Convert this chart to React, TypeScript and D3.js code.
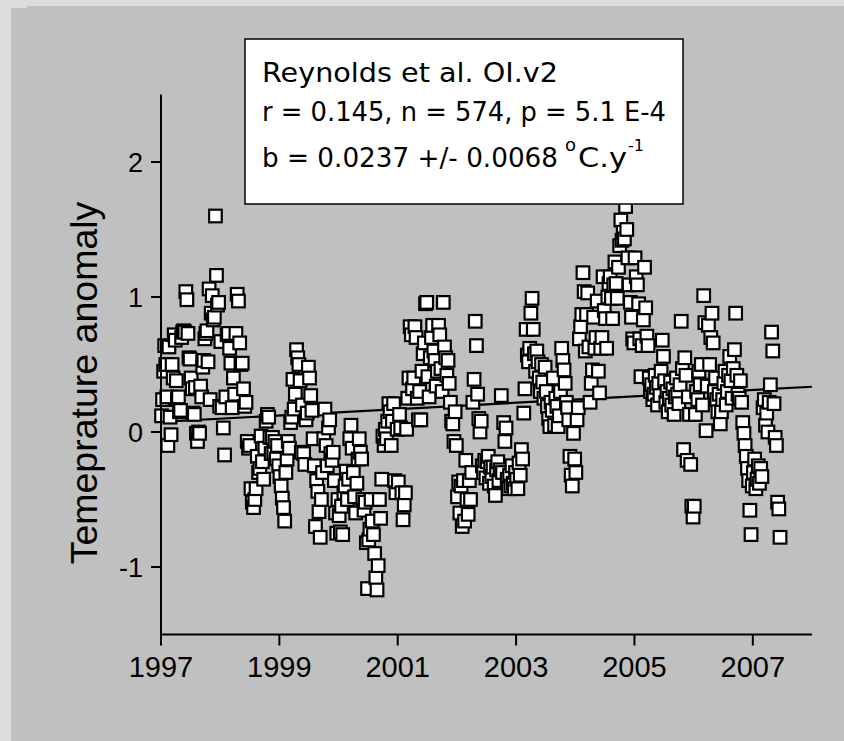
import React from 'react';
import * as d3 from 'd3';

const W = 844;
const H = 741;

// Temperature anomaly values, read per year (sampled through each year in time order)
const v1997 = [0.12, 0.24, 0.45, 0.64, 0.50, 0.26, -0.10, 0.63, 0.11, -0.02, 0.50, 0.40, 0.72, 0.68, 0.38, 0.24, 0.26, 0.15, 0.16, 0.70, 0.74, 0.75, 0.74, 1.04, 0.98, 0.73, 0.55, 0.54, 0.40, 0.32, 0.14, 0.13, 0.33, -0.01, -0.07, 0.00, -0.01, 0.34, 0.26, 0.48, 0.53, 0.69, 0.73, 0.75, 0.52, 1.06, 0.24, 0.88, 1.01, 0.83, 0.85, 1.60, 1.16, 0.94, 0.96, 0.19];
const v1998 = [0.67, 0.18, 0.03, -0.17, 0.26, 0.72, 0.73, 0.62, 0.51, 0.18, 0.40, 0.28, 0.73, 1.02, 0.97, 0.66, 0.50, 0.51, 0.32, 0.19, 0.22, -0.07, -0.12, -0.10, -0.42, -0.52, -0.56, -0.50, -0.42, -0.18, -0.30, -0.27, -0.03, -0.22, -0.35, -0.12, 0.08, 0.13, 0.11, -0.04, -0.16, -0.04, -0.15, -0.07, -0.20, -0.10, -0.25];
const v1999 = [-0.33, -0.40, -0.49, -0.56, -0.66, -0.30, -0.20, -0.07, -0.12, 0.07, 0.11, 0.39, 0.17, 0.28, 0.61, 0.55, 0.50, 0.38, -0.15, 0.20, -0.16, -0.24, 0.09, 0.14, 0.48, 0.40, 0.27, 0.16, -0.05, -0.25, -0.70, -0.36, -0.44, -0.59, -0.78, -0.50, -0.30, -0.05, 0.17, -0.10, -0.25, 0.03, 0.09, -0.16, -0.21, -0.15, -0.36, -0.60, -0.75, -0.50];
const v2000 = [-0.62, -0.74, -0.55, -0.76, -0.45, -0.40, -0.29, -0.50, -0.35, -0.05, 0.05, -0.12, -0.30, -0.48, -0.60, -0.38, -0.20, -0.05, -0.15, -0.20, -0.50, -0.58, -0.52, -0.82, -1.16, -0.80, -0.72, -0.50, -0.66, -0.76, -0.90, -1.08, -1.17, -0.99, -0.50, -0.64, -0.35, -0.03, -0.10, 0.02, -0.05, 0.08, 0.21, 0.15, -0.10, 0.08, 0.21, -0.36, -0.45, 0.02];
const v2001 = [-0.37, 0.13, 0.03, -0.45, -0.65, -0.54, -0.45, 0.02, 0.25, 0.40, 0.78, 0.72, 0.32, 0.40, 0.78, 0.70, 0.25, 0.09, 0.30, 0.09, 0.45, 0.58, 0.66, 0.95, 0.96, 0.41, 0.26, 0.55, 0.70, 0.79, 0.60, 0.53, 0.34, 0.45, 0.79, 0.72, 0.47, 0.30, 0.96, 0.63, 0.55, 0.42, 0.53, 0.36, 0.22, 0.08, 0.06, -0.07, 0.15, -0.10];
const v2002 = [-0.48, -0.37, -0.60, -0.40, -0.70, -0.36, -0.66, -0.21, -0.50, -0.61, -0.36, -0.50, -0.30, 0.22, 0.39, 0.82, 0.64, 0.28, 0.10, 0.00, 0.08, -0.25, -0.30, -0.21, -0.34, -0.22, -0.18, -0.38, -0.26, -0.33, -0.26, -0.40, -0.47, -0.28, -0.22, -0.36, -0.28, 0.27, -0.30, 0.07, -0.07, 0.03, -0.35, -0.42, -0.32, -0.40, -0.25, -0.38, -0.42, -0.30];
const v2003 = [-0.35, -0.42, -0.23, -0.32, -0.13, -0.20, 0.14, 0.32, 0.76, 0.57, 0.52, 0.62, 0.88, 0.99, 0.76, 0.58, 0.45, 0.60, 0.52, 0.40, 0.30, 0.50, 0.37, 0.25, 0.48, 0.30, 0.19, 0.10, 0.04, 0.22, 0.16, 0.40, 0.05, 0.25, 0.19, 0.04, 0.12, 0.30, 0.62, 0.53, 0.46, 0.36, 0.22, 0.18, 0.09, -0.18, -0.32, -0.40, -0.01, -0.20];
const v2004 = [-0.30, 0.09, 0.18, 0.69, 0.78, 0.87, 1.18, 1.04, 0.60, 0.87, 1.03, 0.63, 0.22, 0.36, 0.46, 0.85, 0.62, 0.70, 0.97, 0.45, 0.29, 0.62, 0.70, 1.15, 0.90, 0.84, 0.62, 1.00, 1.10, 1.15, 0.99, 0.84, 1.09, 1.26, 1.10, 0.99, 1.22, 1.38, 1.57, 1.42, 1.48, 1.43, 1.67, 1.50, 1.29, 1.09, 0.96, 0.85, 0.69, 0.66];
const v2005 = [1.29, 1.15, 1.09, 0.95, 0.69, 0.41, 0.64, 0.83, 1.22, 0.92, 0.71, 0.64, 0.40, 0.30, 0.35, 0.24, 0.28, 0.42, 0.33, 0.20, 0.36, 0.27, 0.45, 0.68, 0.56, 0.38, 0.22, 0.30, 0.15, 0.25, 0.37, 0.20, 0.32, 0.13, 0.26, 0.40, 0.28, 0.21, 0.35, 0.82, 0.47, -0.13, 0.55, 0.42, -0.21, 0.26, 0.13, -0.24, -0.55, -0.63];
const v2006 = [-0.55, 0.13, 0.30, 0.24, 0.45, 0.35, 0.50, 0.20, 1.01, 0.81, 0.01, 0.34, 0.79, 0.50, 0.70, 0.88, 0.66, 0.30, 0.40, 0.24, 0.15, 0.28, 0.06, 0.15, 0.24, 0.36, 0.45, 0.20, 0.30, 0.42, 0.56, 0.38, 0.25, 0.47, 0.61, 0.88, 0.42, 0.28, 0.25, 0.38, 0.22, 0.07, -0.01, -0.10, -0.18, -0.27, -0.36, -0.58, -0.76, -0.40];
const v2007 = [-0.30, -0.20, -0.42, -0.35, -0.25, -0.38, -0.27, -0.33, 0.18, 0.24, 0.05, 0.14, 0.00, 0.22, 0.35, 0.74, 0.60, 0.21, -0.04, -0.10, -0.52, -0.57, -0.78];

const segments = [
  { start: 1997, end: 1998, values: v1997 },
  { start: 1998, end: 1999, values: v1998 },
  { start: 1999, end: 2000, values: v1999 },
  { start: 2000, end: 2001, values: v2000 },
  { start: 2001, end: 2002, values: v2001 },
  { start: 2002, end: 2003, values: v2002 },
  { start: 2003, end: 2004, values: v2003 },
  { start: 2004, end: 2005, values: v2004 },
  { start: 2005, end: 2006, values: v2005 },
  { start: 2006, end: 2007, values: v2006 },
  { start: 2007, end: 2007.47, values: v2007 },
];

const xTicks = [1997, 1999, 2001, 2003, 2005, 2007];
const yTicks = [-1, 0, 1, 2];
const trendYears = [1997, 2008];
const trendValues = [0.075, 0.335];

const statsTitle = 'Reynolds et al. OI.v2';
const statsLine2 = 'r = 0.145, n = 574, p = 5.1 E-4';
const statsLine3 = 'b = 0.0237 +/- 0.0068';
const yTitle = 'Temeprature anomaly';

export default function App() {
  const x = d3.scaleLinear().domain([1997, 2008]).range([161, 812]);
  const y = d3.scaleLinear().domain([-1.5, 2.5]).range([634.5, 94.5]);

  const points = segments.flatMap((s) =>
    s.values.map((v, i) => ({
      t: s.start + ((i + 0.5) * (s.end - s.start)) / s.values.length,
      v,
    }))
  );

  const trend = d3
    .line<[number, number]>()
    .x((d) => x(d[0]))
    .y((d) => y(d[1]))(trendYears.map((t, i) => [t, trendValues[i]] as [number, number]));

  const sq = 12.6;
  const axisFont = "'Liberation Sans', Arial, sans-serif";
  const boxFont = "'DejaVu Sans', Verdana, sans-serif";

  return (
    <svg
      width={W}
      height={H}
      style={{ position: 'absolute', left: 0, top: 0, display: 'block' }}
    >
      <rect x={0} y={0} width={W} height={H} fill="#dddddd" />
      <rect x={11} y={8} width={W - 11} height={H - 8} fill="#c0c0c0" />
      <rect x={27} y={6} width={W - 27} height={3} fill="#c0c0c0" />

      {/* trend line */}
      <path d={trend || ''} fill="none" stroke="#000" strokeWidth={2.2} />

      {/* points */}
      <g>
        {points.map((p, i) => (
          <rect
            key={i}
            x={x(p.t) - sq / 2}
            y={y(p.v) - sq / 2}
            width={sq}
            height={sq}
            fill="#ffffff"
            stroke="#000"
            strokeWidth={2.2}
          />
        ))}
      </g>

      {/* axes */}
      <line x1={161} x2={161} y1={y(2.5)} y2={y(-1.5) + 1} stroke="#000" strokeWidth={2} />
      <line x1={160} x2={x(2008)} y1={y(-1.5)} y2={y(-1.5)} stroke="#000" strokeWidth={2} />
      {yTicks.map((t) => (
        <g key={t}>
          <line x1={151} x2={161} y1={y(t)} y2={y(t)} stroke="#000" strokeWidth={2} />
          <text
            x={143}
            y={y(t)}
            dy="0.36em"
            textAnchor="end"
            fontFamily={axisFont}
            fontSize={27}
            fill="#000"
          >
            {t}
          </text>
        </g>
      ))}
      {xTicks.map((t) => (
        <g key={t}>
          <line x1={x(t)} x2={x(t)} y1={y(-1.5)} y2={y(-1.5) + 11} stroke="#000" strokeWidth={2} />
          <text
            x={x(t)}
            y={677}
            textAnchor="middle"
            fontFamily={axisFont}
            fontSize={29}
            fill="#000"
          >
            {t}
          </text>
        </g>
      ))}

      <text
        transform={`translate(97, 383) rotate(-90)`}
        textAnchor="middle"
        fontFamily={axisFont}
        fontSize={37.5}
        fill="#000"
      >
        {yTitle}
      </text>

      {/* stats box */}
      <rect x={245} y={39} width={438} height={165} fill="#ffffff" stroke="#000" strokeWidth={1.5} />
      <text x={262} y={82} fontFamily={boxFont} fontSize={27} textLength={296} lengthAdjust="spacingAndGlyphs" fill="#000">
        {statsTitle}
      </text>
      <text x={262} y={121} fontFamily={boxFont} fontSize={27} textLength={404} lengthAdjust="spacingAndGlyphs" fill="#000">
        {statsLine2}
      </text>
      <text x={262} y={167} fontFamily={boxFont} fontSize={27} textLength={296} lengthAdjust="spacingAndGlyphs" fill="#000">
        {statsLine3}
      </text>
      <text x={565} y={151} fontFamily={boxFont} fontSize={18} fill="#000">o</text>
      <text x={578} y={167} fontFamily={boxFont} fontSize={27} textLength={49} lengthAdjust="spacingAndGlyphs" fill="#000">
        C.y
      </text>
      <text x={628} y={151} fontFamily={boxFont} fontSize={16} fill="#000">-1</text>
    </svg>
  );
}
